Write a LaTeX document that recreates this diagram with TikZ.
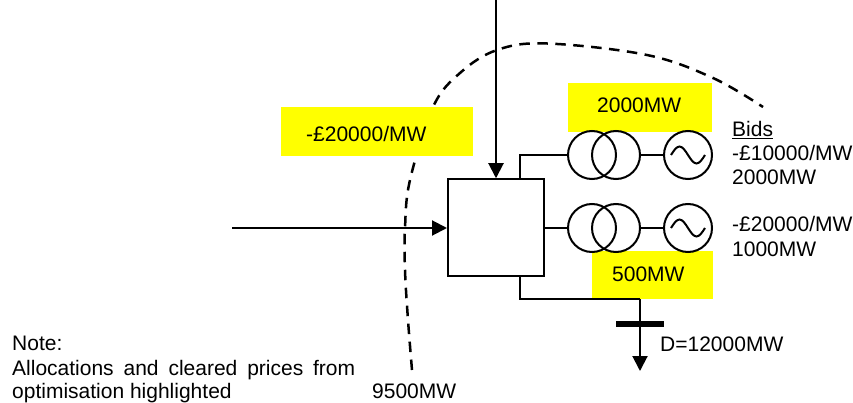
\documentclass[tikz,border=0pt]{standalone}
\usepackage{fontspec}
\setmainfont{Liberation Sans}
\usetikzlibrary{arrows.meta}
\definecolor{hlyellow}{RGB}{255,255,0}

\begin{document}
\begin{tikzpicture}[
    x=1pt, y=-1pt,
    every node/.style={font=\fontsize{21}{25}\selectfont, inner sep=0pt},
    wire/.style={line width=2pt},
    e/.style={wire, -{Triangle[length=15pt,width=15pt]}},
    ring/.style={circle, draw, line width=2pt, minimum size=48pt},
    busbox/.style={rectangle, draw, line width=2pt, minimum width=96pt, minimum height=96.5pt},
    hl/.style={rectangle, fill=hlyellow, anchor=north west},
    lbl/.style={anchor=base west},
    limit/.style={line width=2.5pt, dash pattern=on 10.5pt off 7.5pt},
  ]
  \useasboundingbox (0,0) rectangle (853,403);
  \draw[limit] plot[smooth, tension=0.6] coordinates {(412,370) (408,320) (405,270) (405,228) (410,180) (433,107) (460,73) (497,50) (547,43.5) (647,55) (713,78) (763,107)};
  \node[hl, minimum width=192pt, minimum height=49pt] (hlprice) at (281,107) {};
  \node[hl, minimum width=144pt, minimum height=49pt] (hltop) at (568,83) {};
  \node[hl, minimum width=121pt, minimum height=48pt] (hlbot) at (592,251) {};
  \node[busbox] (bus) at (496,227.5) {};
  \node[ring] (t1a) at (592,155) {};
  \node[ring] (t1b) at (616,155) {};
  \node[ring] (g1) at (688,155) {};
  \node[ring] (t2a) at (592,228) {};
  \node[ring] (t2b) at (616,228) {};
  \node[ring] (g2) at (688,228) {};
  \coordinate (intop) at (496,0);
  \coordinate (inleft) at (232,228);
  \coordinate (bustop) at (520,179);
  \coordinate (busbot) at (520,276);
  \coordinate (loadtop) at (640,299);
  \coordinate (loadend) at (640,371);
  \coordinate (barl) at (616,324);
  \coordinate (barr) at (664,324);
  \draw[e] (intop) -- (bus.north);
  \draw[e] (inleft) -- (bus.west |- inleft);
  \draw[wire] (bustop) |- (t1a.west);
  \draw[wire] (t1b.east) -- (g1.west);
  \draw[wire] (bus.east |- t2a) -- (t2a.west);
  \draw[wire] (t2b.east) -- (g2.west);
  \draw[wire] (busbot) |- (loadtop);
  \draw[e] (loadtop) -- (loadend);
  \draw[line width=5.5pt] (barl) -- (barr);
  \draw[wire] (g1.center) ++(-17,0) sin ++(8.5,-8.5) cos ++(8.5,8.5) sin ++(8.5,8.5) cos ++(8.5,-8.5);
  \draw[wire] (g2.center) ++(-17,0) sin ++(8.5,-8.5) cos ++(8.5,8.5) sin ++(8.5,8.5) cos ++(8.5,-8.5);
  \node[lbl] (price) at (306,142) {-£20000/MW};
  \node[lbl] (alloctop) at (597,113) {2000MW};
  \node[lbl] (allocbot) at (612,281) {500MW};
  \node[lbl] (bids) at (732,137) {\underline{Bids}};
  \node[lbl] (bid1p) at (732,161) {-£10000/MW};
  \node[lbl] (bid1q) at (732,185) {2000MW};
  \node[lbl] (bid2p) at (732,231.5) {-£20000/MW};
  \node[lbl] (bid2q) at (732,256.5) {1000MW};
  \node[lbl] (demand) at (660,351) {D=12000MW};
  \node[lbl] (flow) at (372,398) {9500MW};
  \node[lbl] (note1) at (12,350) {Note:};
  \node[lbl] (note2) at (12,375) {\hbox to 343pt{Allocations\hfill and\hfill cleared\hfill prices\hfill from}};
  \node[lbl] (note3) at (12,398) {optimisation highlighted};
\end{tikzpicture}
\end{document}
